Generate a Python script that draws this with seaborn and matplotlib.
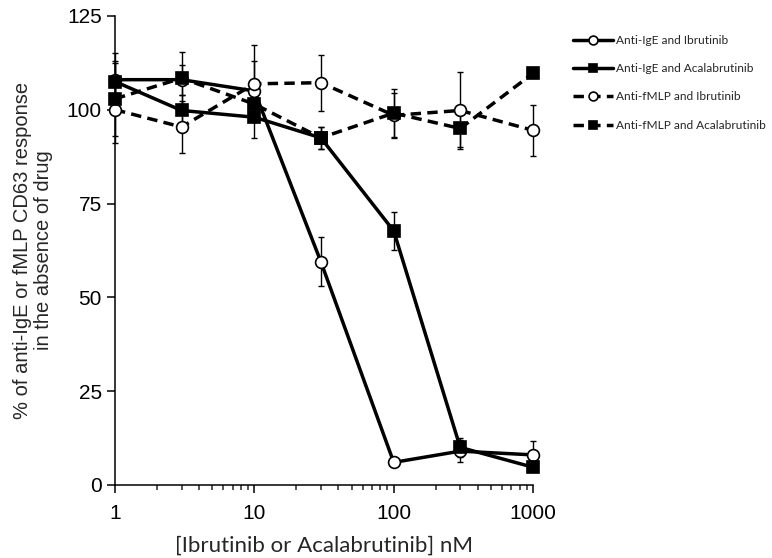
import numpy as np
import pandas as pd
import matplotlib
matplotlib.use("Agg")
import matplotlib.pyplot as plt
import seaborn as sns

# drug concentrations (nM)
conc = [1, 3, 10, 30, 100, 300, 1000]

# % of CD63 response without drug, mean and error
ige_ibr = [108, 108, 105, 59.5, 6, 9, 8]
ige_ibr_err = [4.5, 4, 8, 6.5, 0.5, 3, 3.6]
ige_acala = [107.5, 99.8, 98, 92.5, 67.7, 10, 4.7]
ige_acala_err = [7.5, 4, 5.5, 3, 5, 2.5, 1]
fmlp_ibr = [100, 95.4, 106.9, 107.2, 98.5, 99.8, 94.5]
fmlp_ibr_err = [9, 7, 10.3, 7.5, 6, 10.3, 6.8]
fmlp_acala = [102.9, 108.4, 101.5, 92.5, 99.1, 95, 109.7]
fmlp_acala_err = [10, 7, 4, 3, 6.5, 5, 1]

labels = ["Anti-IgE and Ibrutinib", "Anti-IgE and Acalabrutinib",
          "Anti-fMLP and Ibrutinib", "Anti-fMLP and Acalabrutinib"]
yticks = [0, 25, 50, 75, 100, 125]
xticks = [1, 10, 100, 1000]

sns.set_style("ticks")
plt.rcParams["font.family"] = ["Liberation Sans", "DejaVu Sans"]

fig = plt.figure(figsize=(7.72, 5.58), dpi=100)
ax = fig.add_axes([0.149, 0.131, 0.5415, 0.8405])

series = [
    (ige_ibr, ige_ibr_err, labels[0], "-", "o", "white"),
    (ige_acala, ige_acala_err, labels[1], "-", "s", "black"),
    (fmlp_ibr, fmlp_ibr_err, labels[2], (0, (3, 1.8)), "o", "white"),
    (fmlp_acala, fmlp_acala_err, labels[3], (0, (3, 1.8)), "s", "black"),
]

for vals, err, lab, ls, mk, face in series:
    ax.errorbar(conc, vals, yerr=err, fmt="none", ecolor="black",
                elinewidth=1.0, capsize=2.5, capthick=1.0, zorder=2,
                clip_on=False)
    df = pd.DataFrame({"conc": conc, "val": vals})
    sns.lineplot(data=df, x="conc", y="val", ax=ax, color="black",
                 linewidth=2.5, linestyle=ls, marker=mk, markersize=8.5,
                 markerfacecolor=face, markeredgecolor="black",
                 markeredgewidth=1.2, label=lab, zorder=3, clip_on=False)

ax.set_xscale("log")
ax.set_xlim(1, 1000)
ax.set_ylim(0, 125)
ax.set_xticks(xticks)
ax.set_xticklabels([str(t) for t in xticks])
ax.set_yticks(yticks)
ax.tick_params(axis="both", which="major", length=6, width=1.1,
               labelsize=15, color="black", labelcolor="black")
ax.tick_params(axis="x", which="minor", length=3.5, width=1.1)
ax.tick_params(axis="x", pad=8)
for s in ["left", "bottom"]:
    ax.spines[s].set_linewidth(1.1)
    ax.spines[s].set_color("black")
sns.despine(ax=ax)

ax.set_xlabel("[Ibrutinib or Acalabrutinib] nM", fontsize=16,
              family=["Lato", "DejaVu Sans"], labelpad=9)
ax.set_ylabel("% of anti-IgE or fMLP CD63 response\nin the absence of drug",
              fontsize=14.5, labelpad=10, linespacing=1.15)

leg = ax.legend(loc="upper left", bbox_to_anchor=(0.728, 0.957),
                bbox_transform=fig.transFigure, frameon=False,
                prop={"family": ["Lato", "DejaVu Sans"], "size": 8.6},
                handlelength=3.4, handletextpad=0.2, labelspacing=1.45,
                markerscale=0.75)

fig.savefig("out.png", dpi=100)
